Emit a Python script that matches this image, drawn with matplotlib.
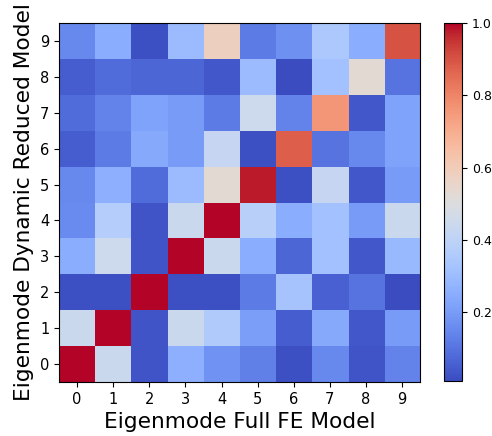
import matplotlib
matplotlib.use('Agg')
import matplotlib.pyplot as plt
import numpy as np

# MAC-like values, rows = reduced model mode 0..9, cols = full FE mode 0..9
row0 = [1.00, 0.44, 0.03, 0.26, 0.18, 0.13, 0.02, 0.15, 0.03, 0.14]
row1 = [0.44, 1.00, 0.03, 0.44, 0.36, 0.21, 0.05, 0.24, 0.04, 0.20]
row2 = [0.02, 0.02, 1.00, 0.02, 0.02, 0.12, 0.33, 0.06, 0.10, 0.01]
row3 = [0.25, 0.45, 0.03, 1.00, 0.44, 0.25, 0.07, 0.32, 0.04, 0.29]
row4 = [0.16, 0.37, 0.03, 0.44, 1.00, 0.38, 0.25, 0.32, 0.20, 0.44]
row5 = [0.15, 0.26, 0.08, 0.30, 0.53, 0.98, 0.02, 0.42, 0.04, 0.20]
row6 = [0.05, 0.12, 0.24, 0.20, 0.42, 0.02, 0.88, 0.10, 0.15, 0.22]
row7 = [0.08, 0.14, 0.22, 0.20, 0.12, 0.45, 0.14, 0.76, 0.04, 0.22]
row8 = [0.05, 0.08, 0.07, 0.07, 0.04, 0.30, 0.01, 0.32, 0.53, 0.10]
row9 = [0.15, 0.25, 0.02, 0.30, 0.58, 0.12, 0.17, 0.35, 0.25, 0.90]
modes = list(range(10))

mac = np.array([row0, row1, row2, row3, row4, row5, row6, row7, row8, row9])

fig = plt.figure(figsize=(4.92, 4.36), dpi=100)
ax = fig.add_axes([0.12, 0.124, 0.734, 0.823])
cax = fig.add_axes([0.902, 0.126, 0.037, 0.821])

im = ax.imshow(mac, cmap='coolwarm', origin='lower', vmin=mac.min(), vmax=1.0,
               aspect='auto')
ax.set_xticks(modes)
ax.set_yticks(modes)
ax.set_xticklabels(modes, fontsize=10.5)
ax.set_yticklabels(modes, fontsize=10.5)
ax.set_xlabel('Eigenmode Full FE Model', fontsize=15.6)
ax.set_ylabel('Eigenmode Dynamic Reduced Model', fontsize=15.6)

cbar = fig.colorbar(im, cax=cax)
cbar.set_ticks([0.2, 0.4, 0.6, 0.8, 1.0])
cbar.ax.tick_params(labelsize=9)

plt.savefig('out.png', dpi=100)
